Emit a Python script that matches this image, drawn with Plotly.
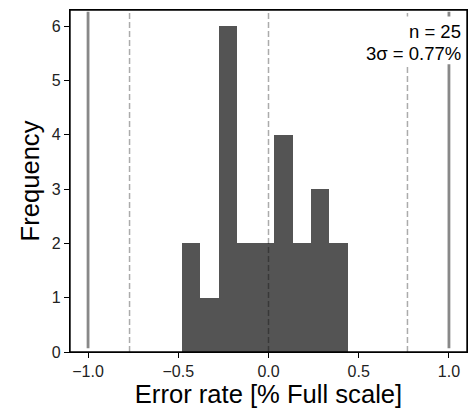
import plotly.graph_objects as go

# Histogram data
bin_edges = [-0.480, -0.378, -0.277, -0.176, -0.074, 0.028, 0.135, 0.236, 0.338, 0.443]
counts = [2, 1, 6, 2, 2, 4, 2, 3, 2]
n_samples = 25
three_sigma = 0.77
limit = 1.0

x_ticks = [-1.0, -0.5, 0.0, 0.5, 1.0]
y_ticks = [0, 1, 2, 3, 4, 5, 6]

centers = [(a + b) / 2 for a, b in zip(bin_edges[:-1], bin_edges[1:])]
widths = [b - a for a, b in zip(bin_edges[:-1], bin_edges[1:])]

FONT = "Liberation Sans, Arial, Helvetica, sans-serif"

fig = go.Figure()
fig.add_trace(go.Bar(x=centers, y=counts, width=widths,
                     marker=dict(color="#545454", line=dict(width=0)),
                     hoverinfo="skip", showlegend=False))

shapes = []
# solid limit lines
for xv in (-limit, limit):
    shapes.append(dict(type="line", xref="x", yref="y", x0=xv, x1=xv, y0=0.07, y1=6.27,
                       line=dict(color="#888888", width=2.8), layer="above"))
# dashed 3-sigma and zero lines
for xv in (-three_sigma, 0.0, three_sigma):
    shapes.append(dict(type="line", xref="x", yref="paper", x0=xv, x1=xv, y0=0, y1=1,
                       line=dict(color="rgba(0,0,0,0.33)", width=1.5, dash="6px,3px"),
                       layer="above"))
# white box behind the text
shapes.append(dict(type="rect", xref="x", yref="y", x0=0.53, x1=1.095, y0=5.30, y1=6.18,
                   fillcolor="white", line=dict(width=0), layer="above"))
# axes frame
shapes.append(dict(type="rect", xref="paper", yref="paper", x0=0, x1=1, y0=0, y1=1,
                   line=dict(color="black", width=1.4), layer="above"))

annotations = [
    dict(text=f"n = {n_samples}", xref="x", yref="y", x=1.075, y=5.90,
         xanchor="right", yanchor="middle", showarrow=False, borderpad=0,
         font=dict(family=FONT, size=18.5, color="black")),
    dict(text=f"3σ = {three_sigma:.2f}%", xref="x", yref="y", x=1.075, y=5.50,
         xanchor="right", yanchor="middle", showarrow=False, borderpad=0,
         font=dict(family=FONT, size=18.5, color="black")),
]

fig.update_layout(
    width=470, height=416,
    margin=dict(l=70, r=3, t=10, b=64),
    paper_bgcolor="white", plot_bgcolor="white",
    bargap=0,
    shapes=shapes,
    annotations=annotations,
    font=dict(family=FONT, color="black"),
)

fig.update_xaxes(
    range=[-1.1, 1.1], tickvals=x_ticks, ticktext=["−1.0", "−0.5", "0.0", "0.5", "1.0"],
    showgrid=False, zeroline=False,
    showline=True, mirror=True, linecolor="black", linewidth=1.4,
    ticks="outside", ticklen=5, tickwidth=1.2, tickcolor="black",
    tickfont=dict(size=16, family=FONT, color="#222"),
    title=dict(text="Error rate [% Full scale]", font=dict(size=25.6, family=FONT, color="black"),
               standoff=4),
    automargin=False,
)
fig.update_yaxes(
    range=[0, 6.3], tickvals=y_ticks,
    showgrid=False, zeroline=False,
    showline=True, mirror=True, linecolor="black", linewidth=1.4,
    ticks="outside", ticklen=5, tickwidth=1.2, tickcolor="black",
    tickfont=dict(size=16, family=FONT, color="#222"),
    title=dict(text="Frequency", font=dict(size=25.6, family=FONT, color="black"),
               standoff=4),
    automargin=False,
)

fig.write_html("out.html", config={"displayModeBar": False},
               post_script="document.body.style.margin='0px';document.body.style.overflow='hidden';")
